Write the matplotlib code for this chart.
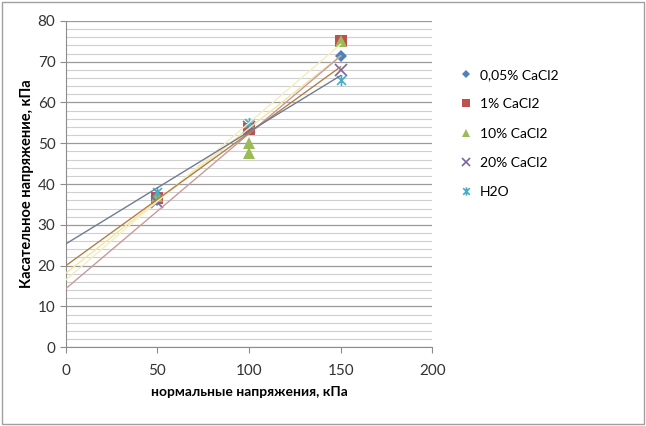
import numpy as np
import matplotlib
matplotlib.use("Agg")
import matplotlib.pyplot as plt
from matplotlib.path import Path

plt.rcParams['font.family'] = ['Lato', 'Open Sans', 'DejaVu Sans']

labels = ['0,05% CaCl2', '1% CaCl2', '10% CaCl2', '20% CaCl2', 'H2O']
x_vals = [[50, 100, 150],
          [50, 100, 150],
          [50, 100, 100, 150],
          [50, 100, 150],
          [50, 100, 150]]
y_vals = [[36, 53.5, 71.5],
          [36.5, 53.5, 75],
          [37, 50, 47.5, 75],
          [35.5, 54, 68],
          [38, 55, 65.5]]

marker_colors = ['#4F81BD', '#C0504D', '#9BBB59', '#8064A2', '#4BACC6']
trend_colors = ['#F2E6A0', '#F5EDC0', '#C99A9A', '#B0804A', '#6E7C94']

star = Path([(0, -1), (0, 1), (-0.8, -0.8), (0.8, 0.8), (-0.8, 0.8), (0.8, -0.8)],
            [Path.MOVETO, Path.LINETO, Path.MOVETO, Path.LINETO, Path.MOVETO, Path.LINETO])
markers = ['D', 's', '^', 'x', star]
msizes = [6, 8, 8, 8, 8]

fig = plt.figure(figsize=(6.46, 4.26), dpi=100)
ax = fig.add_axes([0.102, 0.185, 0.567, 0.766])

for i in range(5):
    xs = np.array(x_vals[i])
    ys = np.array(y_vals[i])
    if i >= 3:
        ax.plot(xs, ys, linestyle='none', marker=markers[i], markersize=msizes[i],
                color=marker_colors[i], markeredgewidth=1.2, label=labels[i], zorder=3)
    else:
        ax.plot(xs, ys, linestyle='none', marker=markers[i], markersize=msizes[i],
                color=marker_colors[i], markeredgewidth=0, label=labels[i], zorder=3)
    k, b = np.polyfit(xs, ys, 1)
    tx = np.array([0, 150])
    ax.plot(tx, k * tx + b, color=trend_colors[i], linewidth=1, zorder=4)

ax.set_xlim(0, 200)
ax.set_ylim(0, 80)
ax.set_xticks([0, 50, 100, 150, 200])
ax.set_yticks(range(0, 81, 10))
ax.set_yticks(range(0, 81, 2), minor=True)
ax.grid(axis='y', which='major', color='#9A9A9A', linewidth=0.9)
ax.grid(axis='y', which='minor', color='#CFCFCF', linewidth=0.8)
ax.set_axisbelow(True)
for s in ['top', 'right']:
    ax.spines[s].set_visible(False)
for s in ['left', 'bottom']:
    ax.spines[s].set_color('#8C8C8C')
ax.tick_params(axis='both', which='major', colors='#8C8C8C', labelcolor='#333333',
               labelsize=11, length=4)
ax.tick_params(axis='y', which='minor', length=0)
ax.tick_params(axis='x', pad=8)

ax.set_xlabel('нормальные напряжения, кПа', fontsize=10, fontweight='bold', labelpad=6)
ax.set_ylabel('Касательное напряжение, кПа', fontsize=10.5, fontweight='bold', labelpad=3)

ax.legend(loc='upper left', bbox_to_anchor=(1.05, 0.87), borderaxespad=0, frameon=False,
          fontsize=10, labelspacing=1.25, handletextpad=0.2, handlelength=1.5,
          markerscale=0.75)

fig.patches.append(plt.Rectangle((0.003, 0.005), 0.994, 0.99, transform=fig.transFigure,
                                 fill=False, edgecolor='#A0A0A0', linewidth=1))

fig.savefig('out.png', dpi=100)
